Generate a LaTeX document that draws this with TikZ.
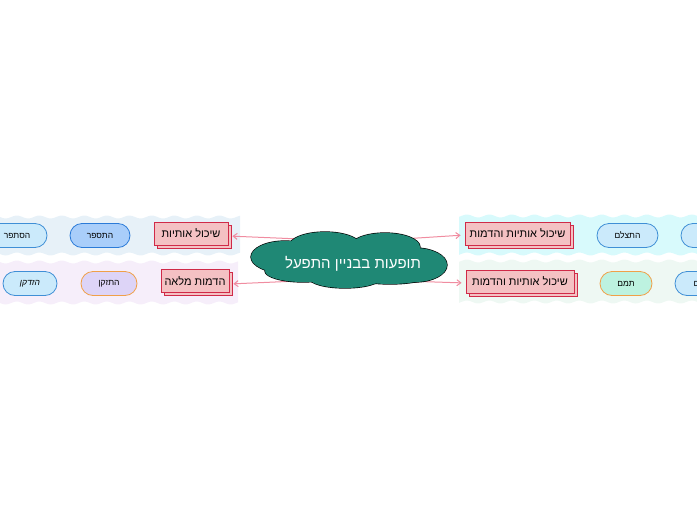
\documentclass[tikz,border=0pt]{standalone}
\usepackage{fontspec}
\setmainfont{Liberation Sans}
\newfontfamily\heb[Script=Hebrew]{Liberation Sans}
\TeXXeTstate=1
\usetikzlibrary{shadows,arrows.meta}
\pgfdeclarelayer{bg}
\pgfdeclarelayer{mid}
\pgfdeclarelayer{cloudl}
\pgfsetlayers{bg,mid,cloudl,main}
\definecolor{cloudc}{HTML}{1F8875}
\definecolor{boxfill}{HTML}{F4C1C3}
\definecolor{boxdraw}{HTML}{D02A48}
\definecolor{connc}{HTML}{F08CA0}
\definecolor{bandTL}{HTML}{E7F1F8}
\definecolor{bandBL}{HTML}{F6EEFA}
\definecolor{bandTR}{HTML}{D8FAFC}
\definecolor{bandBR}{HTML}{EEF8F3}
\definecolor{pillblue}{HTML}{CBEAFB}
\definecolor{pillbluedraw}{HTML}{3F8FD6}
\definecolor{pilldeep}{HTML}{A9CEFA}
\definecolor{pilldeepdraw}{HTML}{2B7BD8}
\definecolor{pilllav}{HTML}{DDD4F7}
\definecolor{pillmint}{HTML}{BDF2E0}
\definecolor{pillorange}{HTML}{F0A048}
\tikzset{
  topic/.style={draw=boxdraw, fill=boxfill, line width=0.8pt, minimum height=23pt, inner sep=0pt,
    font=\heb\fontsize{11}{13}\selectfont,
    copy shadow={shadow xshift=3pt, shadow yshift=-3pt}},
  pill/.style={draw=pillbluedraw, fill=pillblue, line width=0.8pt, rounded corners=12pt,
    minimum height=24pt, inner sep=0pt, font=\heb\fontsize{8.5}{10}\selectfont},
  conn/.style={draw=connc, line width=1pt, -{Straight Barb[length=4pt,width=6pt]}, shorten >=4pt},
  central/.style={text=white, inner sep=0pt, font=\heb\fontsize{15}{18}\selectfont},
  puffline/.style={draw=black, line width=1.3pt},
  pufffill/.style={fill=cloudc}
}
\newcommand{\cloudpuffs}[1]{%
  \path[#1] (285,257) ellipse [x radius=34, y radius=16];
  \path[#1] (325,246) ellipse [x radius=36, y radius=14];
  \path[#1] (385,247) ellipse [x radius=35, y radius=14];
  \path[#1] (415,265) ellipse [x radius=32, y radius=17];
  \path[#1] (390,275) ellipse [x radius=40, y radius=9];
  \path[#1] (345,278) ellipse [x radius=36, y radius=10];
  \path[#1] (303,271) ellipse [x radius=38, y radius=11];
  \path[#1] (349,260) ellipse [x radius=85, y radius=18];
}
\begin{document}
\begin{tikzpicture}[x=1pt,y=-1pt]
\useasboundingbox (0,0) rectangle (697,520);
\clip (0,0) rectangle (697,520);
% bands
\begin{pgfonlayer}{bg}
\fill[bandTL] plot[domain=0:240, samples=90] (\x,{217+1.5*sin(\x*16)}) -- plot[domain=240:0, samples=90] (\x,{254+1.5*sin(\x*16)}) -- cycle;
\fill[bandBL] plot[domain=0:238, samples=90] (\x,{262+1.5*sin(\x*16)}) -- plot[domain=238:0, samples=90] (\x,{303+1.5*sin(\x*16)}) -- cycle;
\fill[bandTR] plot[domain=459:697, samples=90] (\x,{216+1.5*sin(\x*16)}) -- plot[domain=697:459, samples=90] (\x,{254+1.5*sin(\x*16)}) -- cycle;
\fill[bandBR] plot[domain=459:697, samples=90] (\x,{261+1.5*sin(\x*16)}) -- plot[domain=697:459, samples=90] (\x,{302+1.5*sin(\x*16)}) -- cycle;
\end{pgfonlayer}
% central cloud
\begin{pgfonlayer}{cloudl}
\cloudpuffs{puffline}
\cloudpuffs{pufffill}
\end{pgfonlayer}
\node[central] (root) at (353,264) {\beginR תופעות בבניין התפעל\endR};
% topics
\node[topic, minimum width=74pt] (tl) at (191,233.5) {\beginR שיכול אותיות\endR};
\node[topic, minimum width=68pt] (bl) at (195,281) {\beginR הדמות מלאה\endR};
\node[topic, minimum width=105pt] (tr) at (517.5,233.5) {\beginR שיכול אותיות והדמות\endR};
\node[topic, minimum width=108pt] (br) at (520,281.5) {\beginR שיכול אותיות והדמות\endR};
% pills
\node[pill, minimum width=60pt, fill=pilldeep, draw=pilldeepdraw] (p1) at (100,235.5) {\beginR התספר\endR};
\node[pill, minimum width=60pt] (p2) at (17,235.5) {\beginR הסתפר\endR};
\node[pill, minimum width=56pt, fill=pilllav, draw=pillorange] (p3) at (109,283.5) {\beginR התזקן\endR};
\node[pill, minimum width=54pt, font=\heb\itshape\fontsize{8.5}{10}\selectfont] (p4) at (30,283.5) {\beginR הזדקן\endR};
\node[pill, minimum width=61pt] (p5) at (627.5,235.5) {\beginR התצלם\endR};
\node[pill, minimum width=60pt] (p6) at (711,235.5) {};
\node[pill, minimum width=52pt, fill=pillmint, draw=pillorange] (p7) at (626,283.5) {\beginR תמם\endR};
\node[pill, minimum width=60pt] (p8) at (705,283.5) {\beginR התמם\endR};
% connectors
\coordinate (cTL) at (300,239);
\coordinate (cBL) at (298,281);
\coordinate (cTR) at (402,239);
\coordinate (cBR) at (404,281);
\begin{pgfonlayer}{mid}
\draw[conn] (cTL) -- (tl.east |- 0,236);
\draw[conn] (cBL) -- (bl.east |- 0,284);
\draw[conn] (cTR) -- (tr.west |- 0,235);
\draw[conn] (cBR) -- (br.west |- 0,283);
\end{pgfonlayer}
\end{tikzpicture}
\end{document}
